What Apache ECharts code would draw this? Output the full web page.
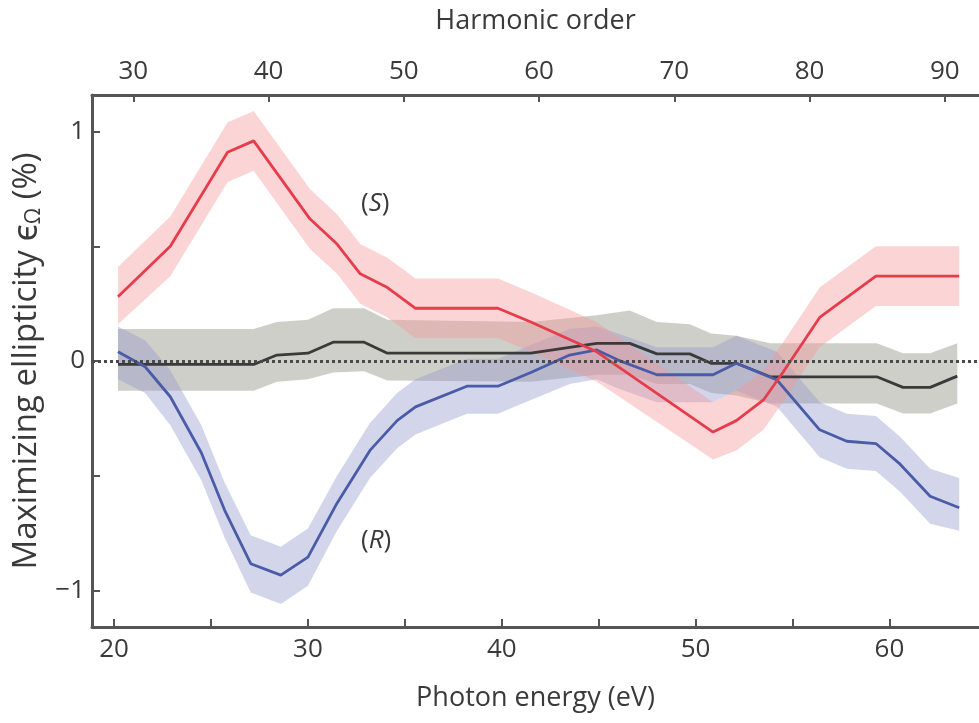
<!DOCTYPE html>
<html>
<head>
<meta charset="utf-8">
<script src="https://cdn.jsdelivr.net/npm/echarts@6/dist/echarts.min.js"></script>
<style>
  html, body { margin: 0; padding: 0; background: #fff; }
  #chart { width: 979px; height: 723px; }
</style>
</head>
<body>
<div id="chart"></div>
<script>
// (S) 曲线
var sX  = [20.2, 22.9, 25.85, 27.2, 30.1, 31.5, 32.7, 34.1, 35.55, 39.8, 41.5, 44.9, 50.9, 52.1, 53.5, 54.5, 56.4, 59.3, 63.6];
var sY  = [0.28, 0.50, 0.91, 0.96, 0.62, 0.51, 0.38, 0.32, 0.23, 0.23, 0.17, 0.04, -0.31, -0.26, -0.17, -0.05, 0.19, 0.37, 0.37];
var sHi = [0.41, 0.63, 1.04, 1.09, 0.75, 0.64, 0.51, 0.45, 0.36, 0.36, 0.30, 0.17, -0.18, -0.13, -0.04, 0.08, 0.32, 0.50, 0.50];
var sLo = [0.16, 0.37, 0.78, 0.83, 0.49, 0.38, 0.25, 0.19, 0.10, 0.10, 0.04, -0.09, -0.43, -0.39, -0.30, -0.18, 0.06, 0.24, 0.24];
// (R) 曲线
var rX  = [20.2, 21.6, 22.9, 24.5, 25.7, 27.05, 28.6, 30.0, 31.5, 33.2, 34.6, 35.55, 38.2, 39.8, 41.5, 43.5, 44.9, 46.0, 48.0, 50.9, 52.1, 54.2, 56.4, 57.8, 59.3, 60.55, 62.1, 63.6];
var rY  = [0.04, -0.025, -0.156, -0.40, -0.65, -0.884, -0.934, -0.855, -0.62, -0.39, -0.26, -0.20, -0.11, -0.11, -0.05, 0.026, 0.048, 0.004, -0.06, -0.06, -0.01, -0.083, -0.30, -0.35, -0.36, -0.45, -0.59, -0.64];
var rHi = [0.15, 0.09, -0.04, -0.28, -0.53, -0.76, -0.81, -0.73, -0.50, -0.27, -0.14, -0.08, 0.01, 0.01, 0.07, 0.14, 0.15, 0.12, 0.06, 0.06, 0.11, 0.04, -0.18, -0.23, -0.24, -0.33, -0.47, -0.51];
var rLo = [-0.08, -0.14, -0.28, -0.52, -0.77, -1.01, -1.06, -0.98, -0.74, -0.51, -0.38, -0.32, -0.23, -0.23, -0.17, -0.10, -0.08, -0.12, -0.18, -0.18, -0.13, -0.20, -0.42, -0.47, -0.48, -0.57, -0.71, -0.74];
// 参照 (黑线)
var kX  = [20.2, 27.2, 28.4, 30.0, 31.3, 32.9, 34.1, 41.5, 44.9, 46.6, 48.0, 49.7, 50.8, 52.1, 53.85, 59.35, 60.7, 62.1, 63.5];
var kY  = [-0.015, -0.015, 0.026, 0.034, 0.082, 0.082, 0.034, 0.034, 0.077, 0.077, 0.031, 0.031, -0.01, -0.01, -0.069, -0.069, -0.115, -0.115, -0.066];
var kHi = [0.14, 0.14, 0.17, 0.18, 0.23, 0.23, 0.18, 0.17, 0.20, 0.22, 0.17, 0.16, 0.12, 0.11, 0.077, 0.077, 0.034, 0.034, 0.077];
var kLo = [-0.13, -0.13, -0.09, -0.08, -0.05, -0.045, -0.085, -0.09, -0.06, -0.06, -0.10, -0.10, -0.14, -0.15, -0.185, -0.185, -0.229, -0.229, -0.185];

// 刻度
var eVTicks = [20, 25, 30, 35, 40, 45, 50, 55, 60];
var eVLabels = [20, 30, 40, 50, 60];
var harmTicks = [30, 40, 50, 60, 70, 80, 90];
var yTicks = [-1, -0.5, 0, 0.5, 1];
var yLabels = [-1, 0, 1];

var FONT = '"Open Sans", "Noto Sans", sans-serif';
var TXT = '#3a3a3a';
var AX = '#555';

function pairs(xs, ys) {
  var res = [];
  for (var i = 0; i < xs.length; i++) res.push([xs[i], ys[i]]);
  return res;
}

function band(xs, lo, hi, color) {
  return {
    type: 'custom',
    silent: true,
    clip: true,
    data: [[xs[0], lo[0]]],
    renderItem: function (params, api) {
      var pts = [];
      for (var i = 0; i < xs.length; i++) pts.push(api.coord([xs[i], hi[i]]));
      for (var j = xs.length - 1; j >= 0; j--) pts.push(api.coord([xs[j], lo[j]]));
      return { type: 'polygon', shape: { points: pts }, style: { fill: color } };
    }
  };
}

function curve(xs, ys, color) {
  return {
    type: 'line',
    data: pairs(xs, ys),
    symbol: 'none',
    silent: true,
    lineStyle: { color: color, width: 2.8 },
    z: 3
  };
}

var myChart = echarts.init(document.getElementById('chart'));
var option = {
  animation: false,
  backgroundColor: '#fff',
  grid: { left: 92, top: 95, right: 0, bottom: 96 },
  xAxis: [{
    type: 'value',
    position: 'bottom',
    min: 18.86,
    max: 64.62,
    name: 'Photon energy (eV)',
    nameLocation: 'middle',
    nameGap: 58,
    nameTextStyle: { fontSize: 27, color: TXT, fontFamily: FONT },
    axisLine: { show: true, onZero: false, lineStyle: { color: AX, width: 3 } },
    axisTick: { show: true, inside: true, length: 8, customValues: eVTicks, lineStyle: { color: AX, width: 2 } },
    axisLabel: { customValues: eVLabels, margin: 10, fontSize: 26, color: TXT, fontFamily: FONT },
    splitLine: { show: false }
  }, {
    type: 'value',
    position: 'top',
    min: 26.95,
    max: 92.53,
    name: 'Harmonic order',
    nameLocation: 'middle',
    nameGap: 60,
    nameTextStyle: { fontSize: 27, color: TXT, fontFamily: FONT },
    axisLine: { show: true, onZero: false, lineStyle: { color: AX, width: 3 } },
    axisTick: { show: true, inside: true, length: 7, customValues: harmTicks, lineStyle: { color: AX, width: 2 } },
    axisLabel: { customValues: harmTicks, margin: 10, fontSize: 26, color: TXT, fontFamily: FONT },
    splitLine: { show: false }
  }],
  yAxis: {
    type: 'value',
    min: -1.16,
    max: 1.16,
    name: 'Maximizing ellipticity {e|ϵ}{sub|Ω} (%)',
    nameLocation: 'middle',
    nameGap: 47,
    nameRotate: 90,
    nameTextStyle: {
      fontSize: 33, color: TXT, fontFamily: FONT,
      rich: {
        e: { fontSize: 35, color: TXT, fontFamily: FONT },
        sub: { fontSize: 21, color: TXT, fontFamily: FONT, padding: [14, 0, 0, 0] }
      }
    },
    axisLine: { show: true, onZero: false, lineStyle: { color: AX, width: 3 } },
    axisTick: { show: true, inside: true, length: 8, customValues: yTicks, lineStyle: { color: AX, width: 2 } },
    axisLabel: {
      customValues: yLabels, margin: 7, fontSize: 26, color: TXT, fontFamily: FONT,
      formatter: function (v) { return v < 0 ? '\u2212' + Math.abs(v) : String(v); }
    },
    splitLine: { show: false }
  },
  graphic: [
    { type: 'text', left: 361, top: 191, style: { text: '({i|S})', fontSize: 26, fill: TXT, fontFamily: FONT,
      rich: { i: { fontSize: 26, fontStyle: 'italic', fill: TXT, fontFamily: FONT } } } },
    { type: 'text', left: 361, top: 528, style: { text: '({i|R})', fontSize: 26, fill: TXT, fontFamily: FONT,
      rich: { i: { fontSize: 26, fontStyle: 'italic', fill: TXT, fontFamily: FONT } } } }
  ],
  series: [
    band(kX, kLo, kHi, 'rgba(160,160,150,0.5)'),
    band(rX, rLo, rHi, 'rgba(150,155,205,0.42)'),
    band(sX, sLo, sHi, 'rgba(245,150,150,0.4)'),
    curve(kX, kY, '#3a3a3a'),
    curve(rX, rY, '#4a5ca8'),
    curve(sX, sY, '#e63c4c'),
    {
      type: 'line',
      data: [],
      markLine: {
        silent: true,
        symbol: 'none',
        label: { show: false },
        lineStyle: { color: '#4a4a4a', type: [3, 3], width: 3 },
        data: [{ yAxis: 0 }]
      },
      z: 5
    }
  ]
};
myChart.setOption(option);
</script>
</body>
</html>
